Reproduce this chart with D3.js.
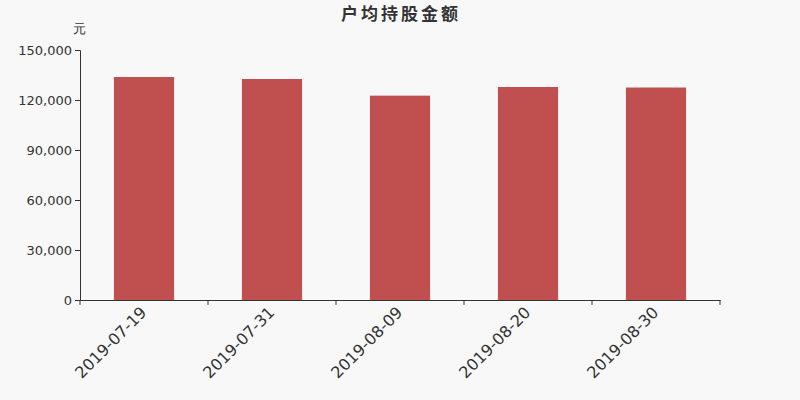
<!DOCTYPE html>
<html>
<head>
<meta charset="utf-8">
<script src="https://cdnjs.cloudflare.com/ajax/libs/d3/7.8.5/d3.min.js"></script>
<style>
  body { margin: 0; background: #f8f8f8; }
  text { font-family: "DejaVu Sans", sans-serif; }
</style>
</head>
<body>
<div id="chart"></div>
<script>
// chart data
var dates = ["2019-07-19", "2019-07-31", "2019-08-09", "2019-08-20", "2019-08-30"];
var amounts = [133800, 132600, 122600, 127800, 127500];
var yTicks = [0, 30000, 60000, 90000, 120000, 150000];

var svgWidth = 800;
var svgHeight = 400;

var Margin = { top: 50, right: 80, bottom: 100, left: 80 };
var width = svgWidth - Margin.left - Margin.right;
var height = svgHeight - Margin.top - Margin.bottom;

var svg = d3.select("#chart")
  .append("svg")
  .attr("width", svgWidth)
  .attr("height", svgHeight)
  .style("background", "#f8f8f8");

var chartGroup = svg.append("g")
  .attr("transform", `translate(${Margin.left}, ${Margin.top})`);

var xScale = d3.scaleBand()
  .domain(dates)
  .range([0, width])
  .paddingInner(0.53)
  .paddingOuter(0.265);

var yScale = d3.scaleLinear()
  .domain([0, 150000])
  .range([height, 0]);

// bars
chartGroup.selectAll("rect")
  .data(dates)
  .enter()
  .append("rect")
  .attr("x", d => xScale(d))
  .attr("y", (d, i) => yScale(amounts[i]))
  .attr("width", xScale.bandwidth())
  .attr("height", (d, i) => height - yScale(amounts[i]))
  .attr("fill", "#c0504f");

// y axis
var leftAxis = d3.axisLeft(yScale)
  .tickValues(yTicks)
  .tickSize(5)
  .tickPadding(3)
  .tickFormat(d3.format(","));

var yAxis = chartGroup.append("g").call(leftAxis);
yAxis.selectAll("text").attr("font-size", "13px").attr("fill", "#333");

// x axis with boundary ticks
var step = width / dates.length;
var bottomAxis = d3.axisBottom(xScale).tickSize(0).tickPadding(8);
var xAxis = chartGroup.append("g")
  .attr("transform", `translate(0, ${height})`)
  .call(bottomAxis);

xAxis.selectAll(".tick text")
  .attr("font-size", "16px")
  .attr("fill", "#333")
  .attr("text-anchor", "end")
  .attr("transform", "translate(-10, 0) rotate(-45)")
  .attr("dy", "0.7em");

d3.range(dates.length + 1).forEach(function(i) {
  xAxis.append("line")
    .attr("x1", i * step).attr("x2", i * step)
    .attr("y1", 0).attr("y2", 5)
    .attr("stroke", "#333");
});

svg.selectAll(".domain").attr("stroke", "#333");
svg.selectAll(".tick line").attr("stroke", "#333");

// unit label
svg.append("text")
  .attr("x", 79)
  .attr("y", 33)
  .attr("text-anchor", "middle")
  .attr("font-size", "13px")
  .attr("fill", "#333")
  .text("元");

// title
svg.append("text")
  .attr("x", svgWidth / 2 + 1)
  .attr("y", 20)
  .attr("text-anchor", "middle")
  .attr("font-size", "17px")
  .attr("font-weight", "bold")
  .attr("letter-spacing", "3px")
  .attr("fill", "#333")
  .style("font-family", "'Noto Sans CJK SC', sans-serif")
  .text("户均持股金额");
</script>
</body>
</html>
